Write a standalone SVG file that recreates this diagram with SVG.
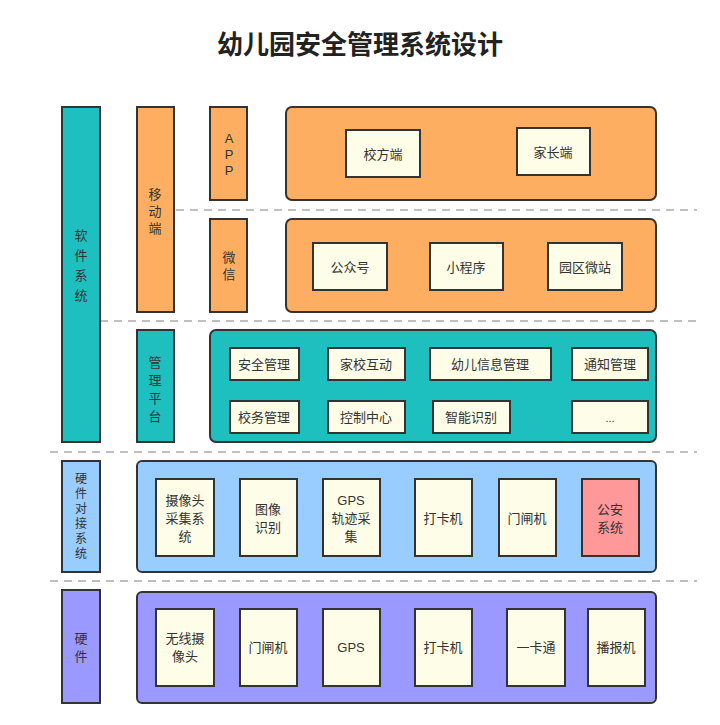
<svg xmlns="http://www.w3.org/2000/svg" width="720" height="725" viewBox="0 0 720 725">
<style>
text{font-family:"Liberation Sans","Noto Sans CJK SC",sans-serif;font-size:13px;fill:#333;text-anchor:middle;dominant-baseline:central}
.b{stroke:#333;stroke-width:2}
.t{fill:#1DBFBF}.o{fill:#FDAE60}.bl{fill:#99CCFF}.p{fill:#9999FF}
.i{fill:#FDFDE8;stroke:#333;stroke-width:2}
.d{stroke:#aaa;stroke-width:1.5;stroke-dasharray:8 6;fill:none}
</style>
<rect width="720" height="725" fill="#fff"/>
<text x="360" y="45" style="font-size:26px;font-weight:bold;fill:#222">幼儿园安全管理系统设计</text>
<g id="connectors">
<line class="d" x1="176" y1="210" x2="697" y2="210"/>
<line class="d" x1="100" y1="321" x2="697" y2="321"/>
<line class="d" x1="50" y1="452" x2="697" y2="452"/>
<line class="d" x1="50" y1="581" x2="697" y2="581"/>
</g>
<g id="software"><rect class="b t" x="62" y="107" width="38" height="335"/><text x="81" y="235">软</text><text x="81" y="255">件</text><text x="81" y="275">系</text><text x="81" y="295">统</text></g>
<g id="mobile"><rect class="b o" x="137" y="107" width="37" height="205"/><text x="155" y="194">移</text><text x="155" y="211">动</text><text x="155" y="228">端</text></g>
<g id="mgmt"><rect class="b t" x="137" y="330" width="37" height="112"/><text x="155" y="362">管</text><text x="155" y="380">理</text><text x="155" y="398">平</text><text x="155" y="416">台</text></g>
<g id="app"><rect class="b o" x="210" y="107" width="37" height="93"/><text x="229" y="138">A</text><text x="229" y="154">P</text><text x="229" y="170">P</text></g>
<g id="wechat"><rect class="b o" x="210" y="219" width="37" height="93"/><text x="229" y="257">微</text><text x="229" y="274">信</text></g>
<g id="app-panel"><rect class="b o" x="286" y="107" width="370" height="93" rx="6"/>
<rect class="i" x="346" y="130" width="74" height="47"/><text x="383" y="154">校方端</text>
<rect class="i" x="517" y="128" width="73" height="47"/><text x="553" y="152">家长端</text></g>
<g id="wechat-panel"><rect class="b o" x="286" y="219" width="370" height="93" rx="6"/>
<rect class="i" x="313" y="243" width="74" height="47"/><text x="350" y="267">公众号</text>
<rect class="i" x="430" y="243" width="73" height="47"/><text x="466" y="267">小程序</text>
<rect class="i" x="548" y="243" width="74" height="47"/><text x="585" y="267">园区微站</text></g>
<g id="mgmt-panel"><rect class="b t" x="210" y="330" width="446" height="112" rx="6"/>
<rect class="i" x="230" y="348" width="69" height="32"/><text x="264" y="364">安全管理</text>
<rect class="i" x="328" y="348" width="77" height="32"/><text x="366" y="364">家校互动</text>
<rect class="i" x="430" y="348" width="121" height="32"/><text x="490" y="364">幼儿信息管理</text>
<rect class="i" x="572" y="348" width="76" height="32"/><text x="610" y="364">通知管理</text>
<rect class="i" x="230" y="401" width="69" height="32"/><text x="264" y="417">校务管理</text>
<rect class="i" x="328" y="401" width="77" height="32"/><text x="366" y="417">控制中心</text>
<rect class="i" x="433" y="401" width="77" height="32"/><text x="471" y="417">智能识别</text>
<rect class="i" x="572" y="401" width="76" height="32"/><text x="610" y="418" style="font-size:11px">...</text></g>
<g id="hw-int"><rect class="b bl" x="62" y="461" width="38" height="111"/><g style="font-size:12px"><text x="81" y="479" style="font-size:12px">硬</text><text x="81" y="494" style="font-size:12px">件</text><text x="81" y="509" style="font-size:12px">对</text><text x="81" y="524" style="font-size:12px">接</text><text x="81" y="539" style="font-size:12px">系</text><text x="81" y="554" style="font-size:12px">统</text></g></g>
<g id="hw-int-panel"><rect class="b bl" x="137" y="461" width="519" height="111" rx="5"/>
<rect class="i" x="156" y="479" width="58" height="77"/><text x="185" y="500">摄像头</text><text x="185" y="518">采集系</text><text x="185" y="536">统</text>
<rect class="i" x="240" y="479" width="57" height="77"/><text x="268" y="509">图像</text><text x="268" y="527">识别</text>
<rect class="i" x="323" y="479" width="57" height="77"/><text x="351" y="500">GPS</text><text x="351" y="518">轨迹采</text><text x="351" y="536">集</text>
<rect class="i" x="415" y="479" width="57" height="77"/><text x="443" y="518">打卡机</text>
<rect class="i" x="499" y="479" width="57" height="77"/><text x="527" y="518">门闸机</text>
<rect class="b" fill="#FF9999" x="582" y="479" width="57" height="77"/><text x="610" y="509">公安</text><text x="610" y="527">系统</text></g>
<g id="hw"><rect class="b p" x="62" y="590" width="38" height="113"/><text x="81" y="638">硬</text><text x="81" y="656">件</text></g>
<g id="hw-panel"><rect class="b p" x="137" y="592" width="519" height="111" rx="5"/>
<rect class="i" x="156" y="609" width="58" height="77"/><text x="185" y="638">无线摄</text><text x="185" y="656">像头</text>
<rect class="i" x="240" y="609" width="57" height="77"/><text x="268" y="647">门闸机</text>
<rect class="i" x="323" y="609" width="57" height="77"/><text x="351" y="647">GPS</text>
<rect class="i" x="415" y="609" width="57" height="77"/><text x="443" y="647">打卡机</text>
<rect class="i" x="507" y="609" width="58" height="77"/><text x="536" y="647">一卡通</text>
<rect class="i" x="588" y="609" width="57" height="77"/><text x="616" y="647">播报机</text></g>
</svg>
